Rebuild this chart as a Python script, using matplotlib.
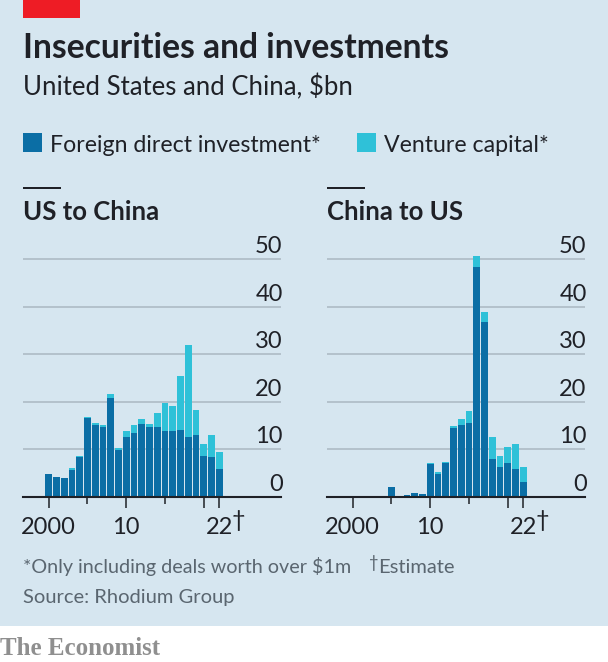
import matplotlib
matplotlib.use("Agg")
import matplotlib.pyplot as plt
from matplotlib.patches import Rectangle
from matplotlib.ticker import FixedLocator, FixedFormatter
from matplotlib.transforms import ScaledTranslation

W, H = 608, 662

years = list(range(2000, 2023))

# $bn
us_china_fdi = [4.7, 4.2, 4.0, 5.6, 8.4, 16.5, 15.1, 14.6, 20.8, 9.8, 12.5, 13.4,
                15.4, 14.6, 14.6, 13.8, 13.9, 14.0, 12.5, 13.0, 8.6, 8.3, 5.8]
us_china_vc = [0.0, 0.0, 0.0, 0.4, 0.1, 0.3, 0.5, 0.6, 0.8, 0.5, 1.3, 1.7,
               0.9, 0.7, 3.1, 6.0, 5.2, 11.5, 19.5, 5.2, 2.5, 4.7, 3.7]
china_us_fdi = [0.0, 0.0, 0.0, 0.0, 0.0, 2.0, 0.0, 0.3, 0.7, 0.6, 6.8, 4.8,
                7.2, 14.5, 15.1, 15.5, 48.4, 36.7, 7.9, 6.2, 7.1, 5.8, 3.1]
china_us_vc = [0.0, 0.0, 0.0, 0.0, 0.0, 0.0, 0.0, 0.0, 0.0, 0.0, 0.2, 0.3,
               0.2, 0.3, 1.2, 2.5, 2.2, 2.2, 4.7, 2.3, 3.3, 5.3, 3.1]

y_ticks = [0, 10, 20, 30, 40, 50]
x_major = [2000, 2010, 2020, 2022]
x_minor = [2005, 2015]
x_labels = ["2000", "10", "", "22"]

BG = "#d6e6f0"
FDI = "#0b6ea5"
VC = "#2fc1d8"
GRID = "#b4c2cb"
INK = "#1f2127"
NOTE = "#5a6670"
SANS = "Lato"


def px_text(x, y, s, **kw):
    fig.text(x / W, 1 - y / H, s, va="baseline", family=kw.pop("family", SANS), **kw)


def px_rect(x0, y0, x1, y1, color, zorder=1):
    fig.add_artist(Rectangle((x0 / W, 1 - y1 / H), (x1 - x0) / W, (y1 - y0) / H,
                             transform=fig.transFigure, facecolor=color, edgecolor="none",
                             zorder=zorder))


def draw_panel(x0, x1, title, fdi, vc):
    base = 496.7
    top = 249.7
    ax = fig.add_axes([x0 / W, 1 - base / H, (x1 - x0) / W, (base - top) / H])
    ax.patch.set_alpha(0)
    ax.bar(years, fdi, width=0.85, color=FDI, linewidth=0, zorder=3)
    ax.bar(years, vc, width=0.85, bottom=fdi, color=VC, linewidth=0, zorder=3)
    ax.set_xlim(1996.68, 2029.97)
    ax.set_ylim(0, 52)

    for side in ["top", "left", "right"]:
        ax.spines[side].set_visible(False)
    ax.spines["bottom"].set_linewidth(1.5)
    ax.spines["bottom"].set_color(INK)
    ax.spines["bottom"].set_zorder(4)

    ax.yaxis.tick_right()
    ax.set_yticks(y_ticks)
    ax.grid(True, axis="y", color=GRID, linewidth=1.4, zorder=1)
    ax.set_axisbelow(True)
    ax.tick_params(axis="y", length=0, pad=1.2, labelsize=17, labelcolor=INK)
    # labels sit on top of their gridline, inside the right edge
    lift = ScaledTranslation(0, 2 / 100, fig.dpi_scale_trans)
    for lab in ax.get_yticklabels():
        lab.set_ha("right")
        lab.set_va("bottom")
        lab.set_family(SANS)
        lab.set_transform(lab.get_transform() + lift)

    ax.xaxis.set_major_locator(FixedLocator(x_major))
    ax.xaxis.set_major_formatter(FixedFormatter(x_labels))
    ax.xaxis.set_minor_locator(FixedLocator(x_minor))
    ax.tick_params(axis="x", which="major", length=8, width=1.1, color=INK, pad=6.3,
                   labelsize=17, labelcolor=INK)
    ax.tick_params(axis="x", which="minor", length=5, width=1.1, color=INK)
    for lab in ax.get_xticklabels():
        lab.set_family(SANS)
    ax.annotate("†", xy=(2022, 0), xycoords=("data", "axes fraction"),
                xytext=(9, -22), textcoords="offset points", fontsize=17,
                color=INK, family=SANS, va="baseline")

    # short rule and panel title
    px_rect(x0, 187.3, x0 + 38, 189, INK)
    px_text(x0, 220, title, fontsize=18.5, fontweight="bold", color=INK)
    return ax


fig = plt.figure(figsize=(W / 100, H / 100), dpi=100, facecolor="white")

px_rect(0, 0, W, 626, BG, zorder=-5)
px_rect(23, 0, 80, 18, "#ee1c25")

px_text(23, 58, "Insecurities and investments", fontsize=24.2, fontweight="bold", color=INK)
px_text(23, 95, "United States and China, $bn", fontsize=18.5, color=INK)

px_rect(22.5, 133, 41.5, 152, FDI)
px_text(50, 152, "Foreign direct investment*", fontsize=16.7, color=INK)
px_rect(356.5, 133, 376, 152, VC)
px_text(384, 152, "Venture capital*", fontsize=16.7, color=INK)

draw_panel(23, 281, "US to China", us_china_fdi, us_china_vc)
draw_panel(327, 585, "China to US", china_us_fdi, china_us_vc)

px_text(23, 573, "*Only including deals worth over $1m", fontsize=14.2, color=NOTE)
px_text(369, 568, "†", fontsize=12, color=NOTE)
px_text(378, 573, "Estimate", fontsize=14.5, color=NOTE)
px_text(23, 603, "Source: Rhodium Group", fontsize=14.5, color=NOTE)
px_text(0, 655, "The Economist", fontsize=18, fontweight="bold", color="#8f8f8f",
        family="Liberation Serif")

fig.savefig("out.png", dpi=100, facecolor=fig.get_facecolor())
